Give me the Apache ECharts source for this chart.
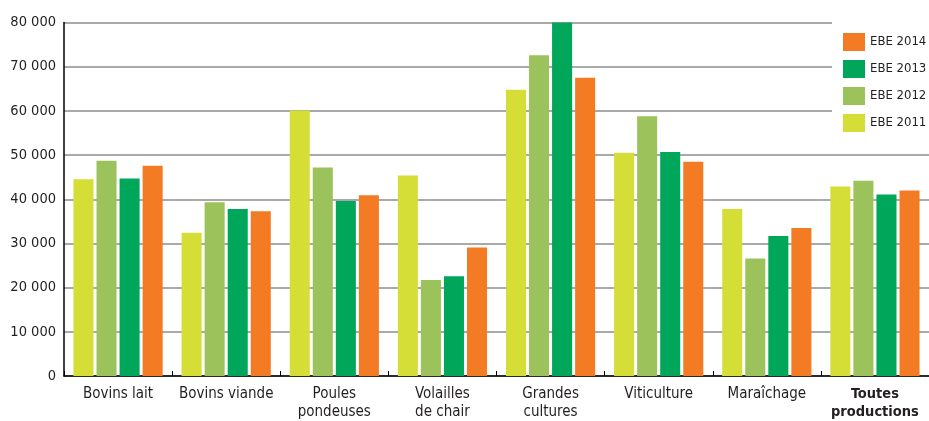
<!DOCTYPE html>
<html><head><meta charset="utf-8">
<script src="https://cdn.jsdelivr.net/npm/echarts@6/dist/echarts.min.js"></script>
<style>html,body{margin:0;padding:0;background:#fff}#c{width:929px;height:421px}</style>
</head><body><div id="c"></div>
<script>
const categories = ['Bovins lait','Bovins viande','Poules\npondeuses','Volailles\nde chair','Grandes\ncultures','Viticulture','Maraîchage','Toutes\nproductions'];
const ebe2011 = [44500, 32400, 60100, 45400, 64800, 50500, 37800, 42900];
const ebe2012 = [48700, 39300, 47200, 21700, 72600, 58800, 26600, 44200];
const ebe2013 = [44700, 37800, 39600, 22600, 80000, 50700, 31700, 41100];
const ebe2014 = [47600, 37300, 40900, 29100, 67500, 48500, 33500, 42000];
const yTicks = [0, 10000, 20000, 30000, 40000, 50000, 60000, 70000, 80000];
const colors = {'EBE 2011':'#d5de36','EBE 2012':'#9cc35b','EBE 2013':'#00a659','EBE 2014':'#f37b24'};
const font = '"DejaVu Sans Condensed", "Roboto", sans-serif';
const chart = echarts.init(document.getElementById('c'));
function bar(name, data){
  return {name, type:'bar', data, itemStyle:{color:colors[name]}, barGap:'15%', barCategoryGap:'17.5%'};
}
chart.setOption({
  animation:false,
  textStyle:{fontFamily:font},
  grid:{left:64, right:0, top:22.5, bottom:41, containLabel:false},
  legend:{
    orient:'vertical', left:832, top:20, padding:[13,20,10,11],
    backgroundColor:'#fff', itemWidth:22, itemHeight:18, itemGap:9,
    data:['EBE 2014','EBE 2013','EBE 2012','EBE 2011'],
    textStyle:{fontFamily:font, fontSize:13, color:'#231f20'},
    icon:'rect'
  },
  xAxis:{
    type:'category', data:categories,
    axisLine:{lineStyle:{color:'#000', width:1.5}},
    axisTick:{show:true, inside:true, length:5, lineStyle:{color:'#000'}},
    axisLabel:{
      fontFamily:font, fontSize:15, color:'#231f20', margin:9, lineHeight:18, interval:0,
      formatter:(v)=> v.startsWith('Toutes') ? '{b|'+v.replace('\n','}\n{b|')+'}' : v,
      rich:{b:{fontWeight:'bold', fontSize:14.5, fontFamily:font, color:'#231f20', lineHeight:18}}
    }
  },
  yAxis:{
    type:'value', min:yTicks[0], max:yTicks[yTicks.length-1], interval:10000,
    axisLine:{show:true, lineStyle:{color:'#000', width:1.5}},
    axisTick:{show:false},
    splitLine:{lineStyle:{color:'#8c8c8c', width:1.5}},
    axisLabel:{fontFamily:font, fontSize:14.5, color:'#231f20', margin:8,
      formatter:(v)=> String(v).replace(/\B(?=(\d{3})+(?!\d))/g,' ')}
  },
  series:[bar('EBE 2011', ebe2011), bar('EBE 2012', ebe2012), bar('EBE 2013', ebe2013), bar('EBE 2014', ebe2014)]
});
</script></body></html>
